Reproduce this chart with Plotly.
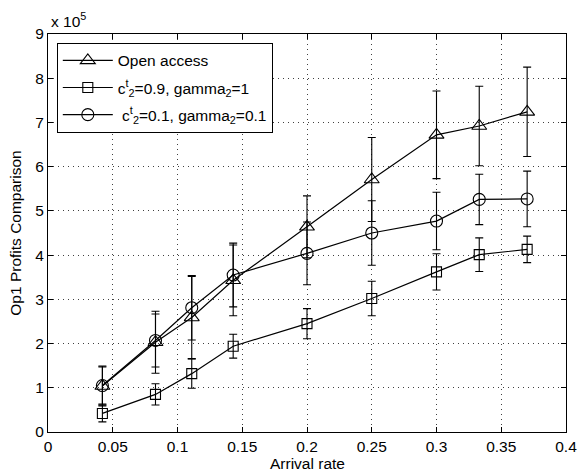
import plotly.graph_objects as go

arrival_rate = [0.042, 0.083, 0.111, 0.143, 0.2, 0.25, 0.3, 0.333, 0.37]

open_access = [1.04, 2.03, 2.59, 3.43, 4.64, 5.71, 6.72, 6.92, 7.24]
open_access_err = [0.45, 0.70, 0.93, 0.80, 0.70, 0.95, 0.99, 0.90, 1.01]

case_a = [0.42, 0.85, 1.32, 1.94, 2.45, 3.02, 3.62, 4.01, 4.13]
case_a_err = [0.19, 0.24, 0.33, 0.27, 0.34, 0.39, 0.41, 0.38, 0.30]

case_b = [1.05, 2.07, 2.81, 3.55, 4.04, 4.50, 4.77, 5.26, 5.27]
case_b_err = [0.42, 0.60, 0.73, 0.72, 0.71, 0.73, 0.65, 0.57, 0.63]

names = ["Open access",
         "c<sup>t</sup><sub>2</sub>=0.9, gamma<sub>2</sub>=1",
         " c<sup>t</sup><sub>2</sub>=0.1, gamma<sub>2</sub>=0.1"]
symbols = ["triangle-up-open", "square-open", "circle-open"]
sizes = [13, 10, 12]

x_ticks = [0, 0.05, 0.1, 0.15, 0.2, 0.25, 0.3, 0.35, 0.4]
x_tick_text = ["0", "0.05", "0.1", "0.15", "0.2", "0.25", "0.3", "0.35", "0.4"]
y_ticks = [0, 1, 2, 3, 4, 5, 6, 7, 8, 9]

FONT = "Liberation Sans, Arial, Helvetica, sans-serif"
FS = 15.5

fig = go.Figure()
for i, (ys, es, nm, sym, sz) in enumerate(zip([open_access, case_a, case_b],
                                              [open_access_err, case_a_err, case_b_err],
                                              names, symbols, sizes)):
    fig.add_trace(go.Scatter(
        x=arrival_rate, y=ys, name=nm, mode="lines+markers", legendgroup=f"g{i}",
        line=dict(color="black", width=1.2),
        marker=dict(symbol=sym, size=sz, color="black", line=dict(width=1.1, color="black")),
        error_y=dict(type="data", array=es, visible=True, color="black", thickness=1.1, width=4),
    ))

axis_common = dict(
    showline=True, linecolor="black", linewidth=1.2, mirror="allticks",
    ticks="inside", ticklen=5, tickcolor="black", tickwidth=1,
    showgrid=True, gridcolor="rgba(0,0,0,0.75)", gridwidth=1, griddash="1px,4px",
    zeroline=False, tickfont=dict(family=FONT, size=FS, color="black"),
    automargin=False,
)

fig.update_xaxes(range=[0, 0.4], tickvals=x_ticks, ticktext=x_tick_text, **axis_common)
fig.update_yaxes(range=[0, 9], tickvals=y_ticks,
                 title=dict(text="Op1 Profits Comparison", font=dict(family=FONT, size=FS, color="black"), standoff=9),
                 **axis_common)

fig.add_annotation(text="Arrival rate", xref="paper", yref="paper", x=0.5, y=0,
                   xanchor="center", yanchor="top", showarrow=False, yshift=-21,
                   font=dict(family=FONT, size=FS, color="black"))

fig.add_annotation(text="x 10<sup>5</sup>", xref="paper", yref="paper", x=0, y=1,
                   xanchor="left", yanchor="bottom", showarrow=False, yshift=2, xshift=1,
                   font=dict(family=FONT, size=FS, color="black"))

fig.update_layout(
    width=578, height=472,
    margin=dict(l=48, r=12, t=34, b=40),
    plot_bgcolor="white", paper_bgcolor="white",
    font=dict(family=FONT, size=FS, color="black"),
    legend=dict(x=0.017, y=0.978, xanchor="left", yanchor="top",
                bordercolor="black", borderwidth=1, bgcolor="white",
                font=dict(family=FONT, size=FS, color="black"),
                itemwidth=50, tracegroupgap=4),
    showlegend=True,
)

fig.write_html("out.html", config={"displayModeBar": False},
               post_script="document.body.style.margin='0';document.body.style.overflow='hidden';")
